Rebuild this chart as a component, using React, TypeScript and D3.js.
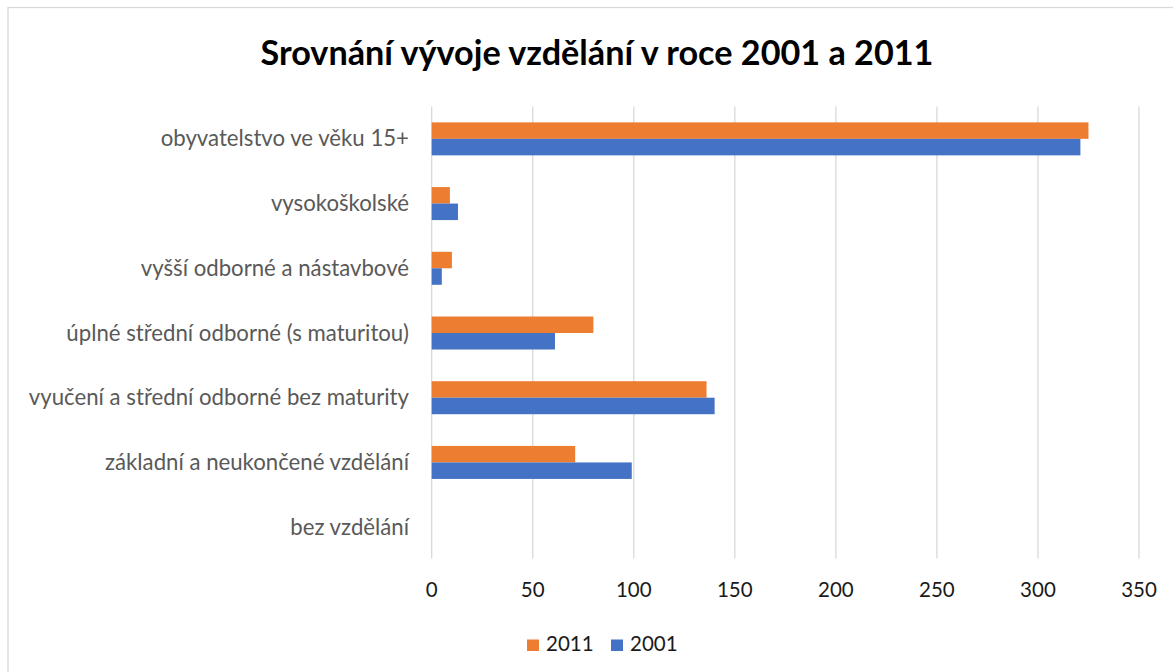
import React from "react";
import * as d3 from "d3";

const categories = [
  "obyvatelstvo ve věku 15+",
  "vysokoškolské",
  "vyšší odborné a nástavbové",
  "úplné střední odborné (s maturitou)",
  "vyučení a střední odborné bez maturity",
  "základní a neukončené vzdělání",
  "bez vzdělání",
];
const values2011 = [325, 9, 10, 80, 136, 71, 0];
const values2001 = [321, 13, 5, 61, 140, 99, 0];
const seriesNames = ["2011", "2001"];
const seriesColors = ["#ED7D31", "#4472C4"];
const xTicks = [0, 50, 100, 150, 200, 250, 300, 350];
const title = "Srovnání vývoje vzdělání v roce 2001 a 2011";

const W = 1173;
const H = 672;
const FONT = "Lato, 'Open Sans', sans-serif";

export default function App() {
  const x = d3.scaleLinear().domain([0, 350]).range([431.7, 1139]);
  const y0 = d3
    .scaleBand<string>()
    .domain(categories)
    .range([106.5, 559.5])
    .paddingInner(0.49)
    .paddingOuter(0.245);
  const y1 = d3.scaleBand<string>().domain(seriesNames).range([0, y0.bandwidth()]);
  const seriesValues = [values2011, values2001];

  return (
    <svg
      width={W}
      height={H}
      style={{ position: "absolute", left: 0, top: 0, background: "#fff" }}
      fontFamily={FONT}
    >
      <rect x={0} y={0} width={W} height={H} fill="#fff" />
      <rect x={8} y={7.5} width={W + 20} height={H + 20} fill="#fff" stroke="#D9D9D9" strokeWidth={1.3} />
      <text x={597} y={65} textAnchor="middle" fontSize={34.2} fontWeight="bold" fill="#000">
        {title}
      </text>
      {xTicks.map((t) => (
        <g key={t}>
          <line x1={x(t)} x2={x(t)} y1={106.5} y2={558.5} stroke="#D9D9D9" strokeWidth={1.3} />
          <text x={x(t)} y={597} textAnchor="middle" fontSize={20.5} fill="#1a1a1a">
            {t}
          </text>
        </g>
      ))}
      {categories.map((c) => (
        <text
          key={c}
          x={409}
          y={(y0(c) as number) + y0.bandwidth() / 2 + 7.5}
          textAnchor="end"
          fontSize={22.2}
          fill="#595959"
        >
          {c}
        </text>
      ))}
      {seriesNames.map((s, si) =>
        categories.map((c, ci) => (
          <rect
            key={s + c}
            x={x(0)}
            y={(y0(c) as number) + (y1(s) as number)}
            width={x(seriesValues[si][ci]) - x(0)}
            height={y1.bandwidth()}
            fill={seriesColors[si]}
          />
        ))
      )}
      {seriesNames.map((s, si) => {
        const lx = 527 + si * 84;
        return (
          <g key={s}>
            <rect x={lx} y={639.5} width={12} height={11.5} fill={seriesColors[si]} />
            <text x={lx + 19} y={651} fontSize={20.5} fill="#1a1a1a">
              {s}
            </text>
          </g>
        );
      })}
    </svg>
  );
}
